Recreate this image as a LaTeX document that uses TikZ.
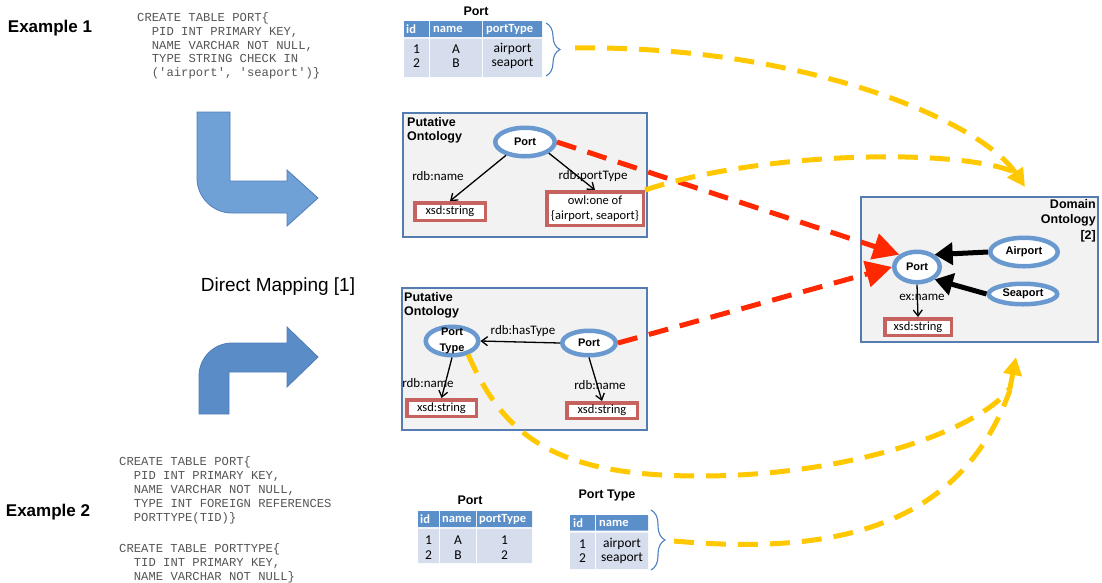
\documentclass[tikz,border=0pt]{standalone}
\usepackage{fontspec}
\setmainfont{Liberation Sans}
\newfontfamily\calibri{Carlito}
\newfontfamily\sqlmono{Liberation Mono}
\usetikzlibrary{arrows.meta,shapes.geometric,decorations.pathreplacing}

\definecolor{hdrblue}{RGB}{91,143,201}
\definecolor{cellblue}{RGB}{214,221,236}
\definecolor{ringblue}{RGB}{106,153,208}
\definecolor{boxred}{RGB}{199,99,94}
\definecolor{frameblue}{RGB}{84,124,176}
\definecolor{panel}{RGB}{242,242,242}
\definecolor{gold}{RGB}{255,200,0}
\definecolor{hot}{RGB}{255,40,0}
\definecolor{bendlight}{RGB}{111,160,214}
\definecolor{benddark}{RGB}{90,140,200}
\definecolor{bendedge}{RGB}{80,126,184}
\definecolor{sqlgray}{RGB}{85,85,85}
\definecolor{bracecol}{RGB}{79,129,189}

\tikzset{
  tabletitle/.style={font=\fontsize{12.5}{14}\selectfont\bfseries, inner sep=0},
  hdr/.style={font=\calibri\fontsize{12.5}{14}\selectfont\bfseries, text=white, inner sep=0, anchor=west},
  cell/.style={font=\calibri\fontsize{13.5}{14.5}\selectfont, inner sep=0, align=center},
  sql/.style={font=\sqlmono\fontsize{12.2}{14}\selectfont, text=sqlgray, inner sep=0, anchor=base west},
  example/.style={font=\fontsize{17}{20}\selectfont\bfseries, inner sep=0},
  panelbox/.style={rectangle, draw=frameblue, line width=1.4pt, fill=panel, inner sep=0},
  paneltitle/.style={font=\fontsize{12.5}{14.5}\selectfont\bfseries, inner sep=0},
  cls/.style={ellipse, draw=ringblue, line width=4.5pt, fill=white, inner sep=0,
    font=\fontsize{11}{13}\selectfont\bfseries},
  clstext/.style={font=\fontsize{11}{15.5}\selectfont\bfseries, inner sep=0, align=center},
  lit/.style={rectangle, draw=boxred, line width=3.5pt, fill=white, inner sep=0,
    font=\calibri\fontsize{12.5}{14.5}\selectfont, align=center},
  elabel/.style={font=\calibri\fontsize{13}{15}\selectfont, inner sep=0},
  rel/.style={line width=1.3pt, -{Straight Barb[length=6pt,width=9pt]}},
  sub/.style={line width=5pt, -{Triangle[length=18pt,width=22pt]}},
  mapred/.style={draw=hot, line width=5pt, dash pattern=on 20pt off 12pt,
    -{Triangle[length=26pt,width=26pt]}},
  mapgold/.style={draw=gold, line width=5pt, dash pattern=on 20pt off 12pt},
  goldtip/.style={-{Triangle[length=18pt,width=18pt]}},
  rowbrace/.style={draw=bracecol, line width=1.1pt, decorate,
    decoration={brace, amplitude=14pt}},
  bentarrow/.style={draw=bendedge, line width=0.8pt},
}

\begin{document}
\begin{tikzpicture}[x=1pt, y=-1pt]
\useasboundingbox (0,0) rectangle (1102,582);

% ---------- example labels and SQL ----------
\node[example] (ex1) at (50,28) {Example 1};
\node[example] (ex2) at (48,512) {Example 2};

\node[sql] (sa1) at (137,21.5) {CREATE TABLE PORT\{};
\node[sql] (sa2) at (151.7,35.3) {PID INT PRIMARY KEY,};
\node[sql] (sa3) at (151.7,49) {NAME VARCHAR NOT NULL,};
\node[sql] (sa4) at (151.7,62.8) {TYPE STRING CHECK IN};
\node[sql] (sa5) at (151.7,76.5) {(\textquotesingle airport\textquotesingle, \textquotesingle seaport\textquotesingle)\}};

\node[sql] (sb1) at (119,465.5) {CREATE TABLE PORT\{};
\node[sql] (sb2) at (133.7,479.5) {PID INT PRIMARY KEY,};
\node[sql] (sb3) at (133.7,493.5) {NAME VARCHAR NOT NULL,};
\node[sql] (sb4) at (133.7,507.5) {TYPE INT FOREIGN REFERENCES};
\node[sql] (sb5) at (133.7,521.5) {PORTTYPE(TID)\}};
\node[sql] (sb6) at (119,552.5) {CREATE TABLE PORTTYPE\{};
\node[sql] (sb7) at (133.7,566.5) {TID INT PRIMARY KEY,};
\node[sql] (sb8) at (133.7,580.5) {NAME VARCHAR NOT NULL\}};

% ---------- bent "direct mapping" arrows ----------
\filldraw[fill=bendlight, bentarrow]
  (197,112) -- (230,112) -- (230,181) -- (287,181) -- (287,170) -- (318,198)
  -- (287,226) -- (287,213) -- (232,213)
  .. controls (212.7,213) and (197,197.3) .. (197,178) -- cycle;
\node[font=\fontsize{19}{22}\selectfont, inner sep=0] (dm) at (278,287) {Direct Mapping [1]};
\filldraw[fill=benddark, bentarrow]
  (199,414) -- (199,376) .. controls (199,357.8) and (213.8,343) .. (232,343)
  -- (287,343) -- (287,327) -- (318,357) -- (287,387) -- (287,372)
  -- (229,372) -- (229,414) -- cycle;

% ---------- table Port (example 1) ----------
\node[tabletitle] (t1t) at (476,11) {Port};
\fill[hdrblue] (404,21) rectangle (429,37) (430,21) rectangle (482,37) (483,21) rectangle (542,37);
\fill[cellblue] (404,38.5) rectangle (429,77) (430,38.5) rectangle (482,77) (483,38.5) rectangle (542,77);
\node[hdr] (t1h1) at (406,29) {id};
\node[hdr] (t1h2) at (433,29) {name};
\node[hdr] (t1h3) at (486,29) {portType};
\node[cell] (t1c1) at (416.5,56) {1\\2};
\node[cell] (t1c2) at (456,56) {A\\B};
\node[cell] (t1c3) at (512.5,56) {airport\\seaport};
\draw[rowbrace] (546,23) -- (546,76);
\coordinate (src1) at (575,48);

% ---------- table Port (example 2) ----------
\node[tabletitle] (t2t) at (470,500) {Port};
\fill[hdrblue] (418,511) rectangle (439,527) (440,511) rectangle (476,527) (477,511) rectangle (532,527);
\fill[cellblue] (418,528.5) rectangle (439,563) (440,528.5) rectangle (476,563) (477,528.5) rectangle (532,563);
\node[hdr] (t2h1) at (420,519) {id};
\node[hdr] (t2h2) at (442,519) {name};
\node[hdr] (t2h3) at (479,519) {portType};
\node[cell] (t2c1) at (428.5,547.5) {1\\2};
\node[cell] (t2c2) at (458,547.5) {A\\B};
\node[cell] (t2c3) at (504.5,547.5) {1\\2};

% ---------- table Port Type (example 2) ----------
\node[tabletitle] (t3t) at (607,495) {Port Type};
\fill[hdrblue] (570,515) rectangle (595,530.5) (596,515) rectangle (648,530.5);
\fill[cellblue] (570,532.5) rectangle (595,569) (596,532.5) rectangle (648,569);
\node[hdr] (t3h1) at (573,523) {id};
\node[hdr] (t3h2) at (599,523) {name};
\node[cell] (t3c1) at (582.5,551) {1\\2};
\node[cell] (t3c2) at (622,551) {airport\\seaport};
\draw[rowbrace] (651,510) -- (651,570);
\coordinate (src2) at (674,541);

% ---------- putative ontology, example 1 ----------
\node[panelbox, minimum width=244pt, minimum height=124pt] (po1) at (525,175) {};
\node[paneltitle, anchor=north west, align=left] (po1t) at (407,117) {Putative\\Ontology};
\node[cls, minimum width=59.5pt, minimum height=28.5pt] (p1) at (525,142) {Port};
\node[lit, minimum width=70.5pt, minimum height=17.5pt] (x1) at (450,211.5) {xsd:string};
\node[lit, minimum width=96.5pt, minimum height=33.5pt] (owl) at (595,208.5) {owl:one of\\\{airport, seaport\}};
\node[elabel] (l1) at (438,176) {rdb:name};
\node[elabel] (l2) at (593,176) {rdb:portType};
\draw[rel] (p1.215) -- (x1.north);
\draw[rel] (p1.-25) -- (owl.north);

% ---------- putative ontology, example 2 ----------
\node[panelbox, minimum width=245pt, minimum height=142pt] (po2) at (524.5,359) {};
\node[paneltitle, anchor=north west, align=left] (po2t) at (404,292) {Putative\\Ontology};
\node[cls, minimum width=52.5pt, minimum height=28.5pt] (pt) at (452,341) {};
\node[clstext] (ptt) at (452,341) {Port\\Type};
\node[cls, minimum width=53.5pt, minimum height=24.5pt] (p2) at (589,343) {Port};
\node[lit, minimum width=69.5pt, minimum height=16.5pt] (xl) at (441.5,408) {xsd:string};
\node[lit, minimum width=70.5pt, minimum height=15.5pt] (xr) at (602,410.5) {xsd:string};
\node[elabel] (l3) at (523,331) {rdb:hasType};
\node[elabel] (l4) at (428,383) {rdb:name};
\node[elabel] (l5) at (600,385) {rdb:name};
\draw[rel] (p2.west) -- (pt.east);
\draw[rel] (pt.south) -- (xl.north);
\draw[rel] (p2.south) -- (xr.north);

% ---------- domain ontology ----------
\node[panelbox, minimum width=237pt, minimum height=145pt] (dom) at (979.5,269.5) {};
\node[paneltitle, anchor=north east, align=right, font=\fontsize{12.5}{15.5}\selectfont\bfseries] (domt) at (1096,199) {Domain\\Ontology\\{}[2]};
\node[cls, minimum width=45.5pt, minimum height=30.5pt] (dport) at (917,267) {Port};
\node[cls, minimum width=67.5pt, minimum height=28.5pt] (air) at (1024,252) {Airport};
\node[cls, minimum width=68.5pt, minimum height=20.5pt] (sea) at (1023,294) {Seaport};
\node[lit, minimum width=66.5pt, minimum height=16.5pt] (dx) at (918,327) {xsd:string};
\node[elabel] (l6) at (922,297) {ex:name};
\draw[sub] (air.west) -- (dport.north east);
\draw[sub] (sea.west) -- (dport.south east);
\draw[rel] (dport.south) -- (dx.north);

% ---------- mappings ----------
\draw[mapred] (p1.east) -- (dport.north west);
\draw[mapred] (p2.east) -- (dport.west);

\coordinate (ytop) at (1025,187);
\coordinate (ybot) at (1016,357);
\draw[mapgold, goldtip] (src1) .. controls (800,45) and (980,120) .. (ytop);
\draw[mapgold] (owl.north east) .. controls (760,152) and (950,148) .. (1012,171);
\draw[mapgold, goldtip] (pt.-40) .. controls (505,440) and (560,476) .. (700,476)
  .. controls (850,476) and (980,430) .. (1010,388) -- (ybot);
\draw[mapgold] (src2) .. controls (830,555) and (960,530) .. (1010,390);
\end{tikzpicture}
\end{document}
